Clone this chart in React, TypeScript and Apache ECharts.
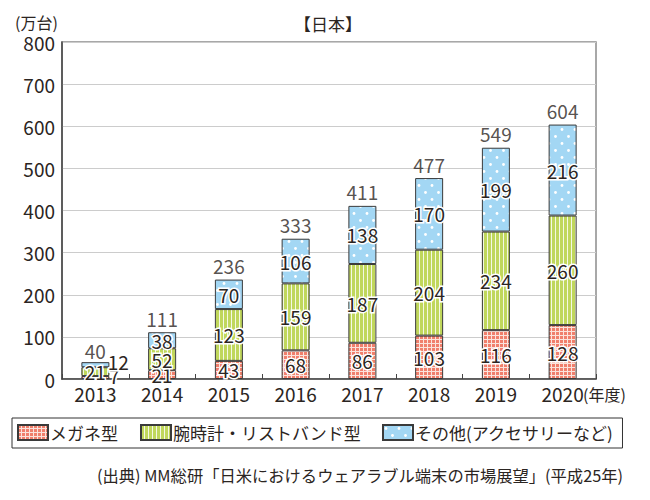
import React, { useEffect, useRef } from "react";
import * as echarts from "echarts";

const categories = ["2013", "2014", "2015", "2016", "2017", "2018", "2019", "2020"];
const glasses = [7, 21, 43, 68, 86, 103, 116, 128];
const watch = [21, 52, 123, 159, 187, 204, 234, 260];
const other = [12, 38, 70, 106, 138, 170, 199, 216];
const totals = [40, 111, 236, 333, 411, 477, 549, 604];
const seriesNames = ["メガネ型", "腕時計・リストバンド型", "その他(アクセサリーなど)"];
const yTicks = { min: 0, max: 800, interval: 100 };

const FONT = "'Noto Sans CJK JP', 'Noto Sans', sans-serif";
const TXT = "#2b2522";

function makeCanvas(w: number, h: number, draw: (c: CanvasRenderingContext2D) => void) {
  const cv = document.createElement("canvas");
  cv.width = w;
  cv.height = h;
  const ctx = cv.getContext("2d")!;
  draw(ctx);
  return cv;
}

export default function App() {
  const ref = useRef<HTMLDivElement>(null);
  useEffect(() => {
    if (!ref.current) return;
    const chart = echarts.init(ref.current, null, { renderer: "svg" });

    const redPat = makeCanvas(4, 4, (c) => {
      c.fillStyle = "#fbe3dc";
      c.fillRect(0, 0, 4, 4);
      c.fillStyle = "#f07f6c";
      c.fillRect(0, 0, 3, 3);
    });
    const greenPat = makeCanvas(4, 4, (c) => {
      c.fillStyle = "#c0d75c";
      c.fillRect(0, 0, 4, 4);
      c.fillStyle = "#f4f8e4";
      c.fillRect(3, 0, 1, 4);
    });
    const bluePat = makeCanvas(13, 14, (c) => {
      c.fillStyle = "#a3d7f4";
      c.fillRect(0, 0, 13, 14);
      c.fillStyle = "#ffffff";
      c.beginPath();
      c.arc(3, 3.5, 1.4, 0, Math.PI * 2);
      c.fill();
      c.beginPath();
      c.arc(9.5, 10.5, 1.4, 0, Math.PI * 2);
      c.fill();
    });
    const pats = [redPat, greenPat, bluePat].map((img) => ({ image: img, repeat: "repeat" }));

    const labelBase = {
      show: true,
      position: "inside",
      color: TXT,
      fontSize: 19,
      fontFamily: FONT,
      textBorderColor: "#ffffff",
      textBorderWidth: 3,
    };

    const mk = (name: string, values: number[], idx: number, special: Record<number, any>) => ({
      name,
      type: "bar",
      stack: "total",
      barWidth: 28,
      itemStyle: { color: pats[idx], borderColor: "#3a3a3a", borderWidth: 1 },
      label: { ...labelBase },
      data: values.map((v, i) => (special[i] ? { value: v, label: special[i] } : v)),
    });

    const option = {
      animation: false,
      textStyle: { fontFamily: FONT },
      grid: {
        left: 62,
        right: 54,
        top: 42,
        bottom: 121,
        show: true,
        borderColor: "#8c8c8c",
        borderWidth: 1.5,
      },
      legend: {
        data: seriesNames,
        left: 12,
        top: 418,
        icon: "rect",
        itemWidth: 30,
        itemHeight: 15,
        itemGap: 22,
        padding: [6, 9, 7, 5],
        borderColor: "#333333",
        borderWidth: 1,
        borderRadius: 0,
        textStyle: { fontSize: 17, color: TXT, fontFamily: FONT, padding: [0, 0, 0, -3] },
      },
      xAxis: {
        type: "category",
        data: categories,
        axisLine: { lineStyle: { color: "#444444", width: 1.5 } },
        axisTick: { show: true, inside: true, length: 5, interval: 0, lineStyle: { color: "#444444" } },
        axisLabel: { fontSize: 19, color: TXT, margin: 5, fontFamily: FONT },
      },
      yAxis: {
        type: "value",
        min: yTicks.min,
        max: yTicks.max,
        interval: yTicks.interval,
        axisLine: { show: true, lineStyle: { color: "#444444", width: 1.5 } },
        axisTick: { show: false },
        axisLabel: { fontSize: 19, color: TXT, margin: 7, fontFamily: FONT },
        splitLine: { show: true, lineStyle: { color: "#cccccc", width: 1 } },
      },
      graphic: [
        {
          type: "text",
          left: 15,
          top: 14,
          style: { text: "(万台)", fontSize: 16, fill: TXT, fontFamily: FONT },
        },
        {
          type: "text",
          x: 328,
          y: 23,
          style: {
            text: "【日本】",
            fontSize: 17,
            fill: TXT,
            fontFamily: FONT,
            align: "center",
            verticalAlign: "middle",
          },
        },
        {
          type: "text",
          x: 583,
          y: 394,
          style: { text: "(年度)", fontSize: 16, fill: TXT, fontFamily: FONT, verticalAlign: "middle" },
        },
        {
          type: "text",
          x: 623,
          y: 475,
          style: {
            text: "(出典) MM総研「日米におけるウェアラブル端末の市場展望」(平成25年)",
            fontSize: 16.3,
            fill: TXT,
            fontFamily: FONT,
            align: "right",
            verticalAlign: "middle",
          },
        },
      ],
      series: [
        mk(seriesNames[0], glasses, 0, { 0: { offset: [19, -2] } }),
        mk(seriesNames[1], watch, 1, {}),
        mk(seriesNames[2], other, 2, { 0: { offset: [23, -3] } }),
        {
          name: "合計",
          type: "scatter",
          symbolSize: 1,
          itemStyle: { color: "transparent" },
          label: {
            show: true,
            position: "top",
            distance: 4,
            color: TXT,
            fontSize: 19,
            fontFamily: FONT,
            formatter: (p: any) => String(p.value),
          },
          data: totals.map((v, i) => (i === 0 ? { value: v, label: { offset: [0, 2] } } : v)),
          z: 5,
        },
      ],
    };
    chart.setOption(option as any);
    return () => chart.dispose();
  }, []);
  return (
    <div
      ref={ref}
      style={{ position: "fixed", left: 0, top: 0, width: 650, height: 500, background: "#ffffff" }}
    />
  );
}
